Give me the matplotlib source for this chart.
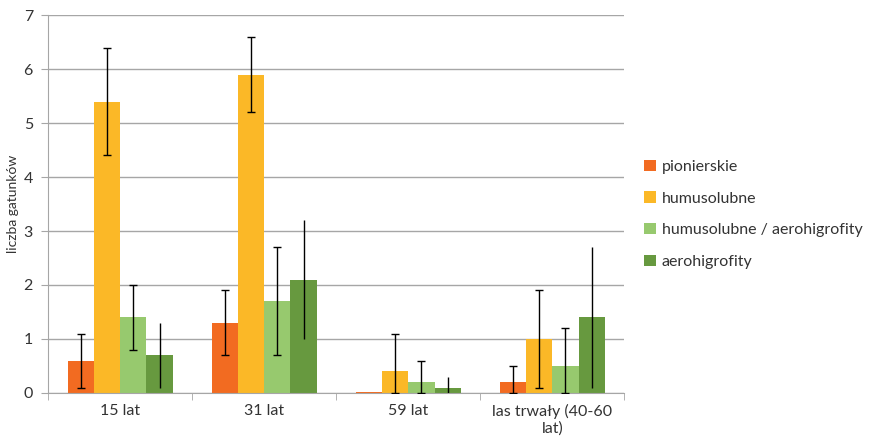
import numpy as np
import matplotlib.pyplot as plt
from matplotlib.patches import Patch

plt.rcParams["font.family"] = ["Lato", "DejaVu Sans"]

categories = ["15 lat", "31 lat", "59 lat", "las trwały (40-60\nlat)"]
series = ["pionierskie", "humusolubne", "humusolubne / aerohigrofity", "aerohigrofity"]
values = [
    [0.6, 1.3, 0.02, 0.2],
    [5.4, 5.9, 0.4, 1.0],
    [1.4, 1.7, 0.2, 0.5],
    [0.7, 2.1, 0.1, 1.4],
]
errors = [
    [0.5, 0.6, 0.0, 0.3],
    [1.0, 0.7, 0.7, 0.9],
    [0.6, 1.0, 0.4, 0.7],
    [0.6, 1.1, 0.2, 1.3],
]
colors = ["#F26B21", "#FBB827", "#97C96E", "#67993F"]
caps = [3, 3, 3, 0]

fig = plt.figure(figsize=(8.69, 4.47), dpi=100)
ax = fig.add_axes([0.0555, 0.121, 0.663, 0.845])

x = np.arange(len(categories))
w = 0.182
for i, (name, vals, errs, col) in enumerate(zip(series, values, errors, colors)):
    vals = np.array(vals)
    errs = np.array(errs)
    pos = x + (i - 1.5) * w
    ax.bar(pos, vals, width=w, color=col, zorder=2)
    lower = np.minimum(errs, vals)
    mask = errs > 0
    ax.errorbar(pos[mask], vals[mask], yerr=[lower[mask], errs[mask]], fmt="none",
                ecolor="black", elinewidth=1, capsize=caps[i], capthick=1, zorder=3)

ax.set_xlim(-0.5, len(categories) - 0.5)
ax.set_ylim(0, 7)
ax.set_yticks(range(0, 8))
ax.yaxis.grid(True, color="#A6A6A6", linewidth=1, zorder=0)
ax.set_axisbelow(True)

ax.set_xticks(x)
ax.set_xticklabels(categories, fontsize=11.5, color="#333333")
ax.tick_params(axis="x", length=0, pad=8)
ax.set_xticks(np.arange(-0.5, len(categories)), minor=True)
ax.tick_params(axis="x", which="minor", length=5, color="#A6A6A6", direction="out")
ax.tick_params(axis="y", length=5, color="#A6A6A6", labelsize=11.5, labelcolor="#333333", pad=6)

for s in ["top", "right"]:
    ax.spines[s].set_visible(False)
ax.spines["left"].set_color("#A6A6A6")
ax.spines["bottom"].set_color("#A6A6A6")

ax.set_ylabel("liczba gatunków", fontsize=10, color="#333333", labelpad=3)

handles = [Patch(facecolor=c, label=n) for n, c in zip(series, colors)]
fig.legend(handles=handles, loc="upper left", bbox_to_anchor=(0.725, 0.675), frameon=False,
           fontsize=11.5, handlelength=0.7, handleheight=0.7, labelspacing=1.1, handletextpad=0.4,
           labelcolor="#333333")

fig.savefig("out.png", dpi=100)
